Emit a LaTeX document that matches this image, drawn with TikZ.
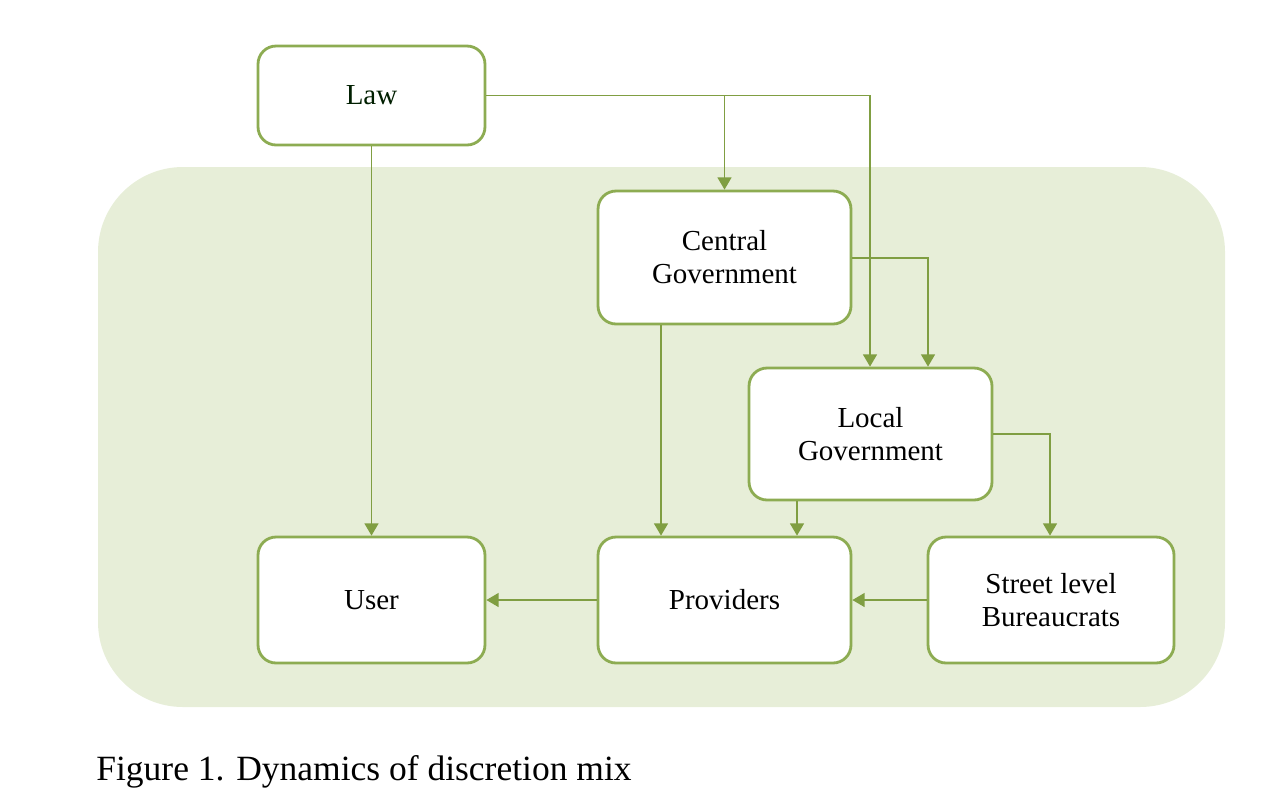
\documentclass[tikz,border=0pt]{standalone}
\usepackage{fontspec}
\setmainfont{Liberation Serif}
\usetikzlibrary{arrows.meta}
\definecolor{boxgreen}{RGB}{141,172,82}
\definecolor{linegreen}{RGB}{128,158,66}
\definecolor{bggreen}{RGB}{231,238,216}
\begin{document}
\begin{tikzpicture}[x=0.02cm,y=-0.02cm,
    box/.style={draw=boxgreen, line width=1.6pt, fill=white, rounded corners=0.36cm,
      align=center, font=\fontsize{16.5}{18.8}\selectfont, inner sep=0pt},
    link/.style={draw=linegreen, line width=0.8pt, -{Triangle[length=7pt,width=8pt]}}]
    \useasboundingbox (0,0) rectangle (1280,792);
    % Shaded area
    \fill[bggreen, rounded corners=1.7cm] (98,167) rectangle (1225,707);

    % Boxes
    \node[box, minimum width=4.54cm, minimum height=1.98cm, text=black!70!green!40!black] (law) at (371.5,95.5) {Law};
    \node[box, minimum width=5.06cm, minimum height=2.66cm] (central) at (724.5,257.5) {Central\\Government};
    \node[box, minimum width=4.86cm, minimum height=2.64cm] (local) at (870.5,434) {Local\\Government};
    \node[box, minimum width=4.54cm, minimum height=2.52cm] (user) at (371.5,600) {User};
    \node[box, minimum width=5.06cm, minimum height=2.52cm] (providers) at (724.5,600) {Providers};
    \node[box, minimum width=4.92cm, minimum height=2.52cm] (street) at (1051,600) {Street level\\Bureaucrats};

    % Connectors
    \coordinate (lawR) at (law.east);
    \draw[link] (lawR) -| (local.north west -| 870,0);
    \draw[link] (lawR) -| (central.north);
    \draw[link] (law.south) -- (user.north);
    \draw[link] (central.east |- 0,258) -| (local.north -| 928,0);
    \draw[link] (central.south -| 661,0) -- (providers.north -| 661,0);
    \draw[link] (local.south -| 797,0) -- (providers.north -| 797,0);
    \draw[link] (local.east) -| (street.north -| 1050,0);
    \draw[link] (providers.west) -- (user.east);
    \draw[link] (street.west) -- (providers.east);

    % Caption
    \node[anchor=west, font=\fontsize{20.2}{23}\selectfont, inner sep=0pt] (caption) at (96,772) {Figure 1. Dynamics of discretion mix};
\end{tikzpicture}
\end{document}
